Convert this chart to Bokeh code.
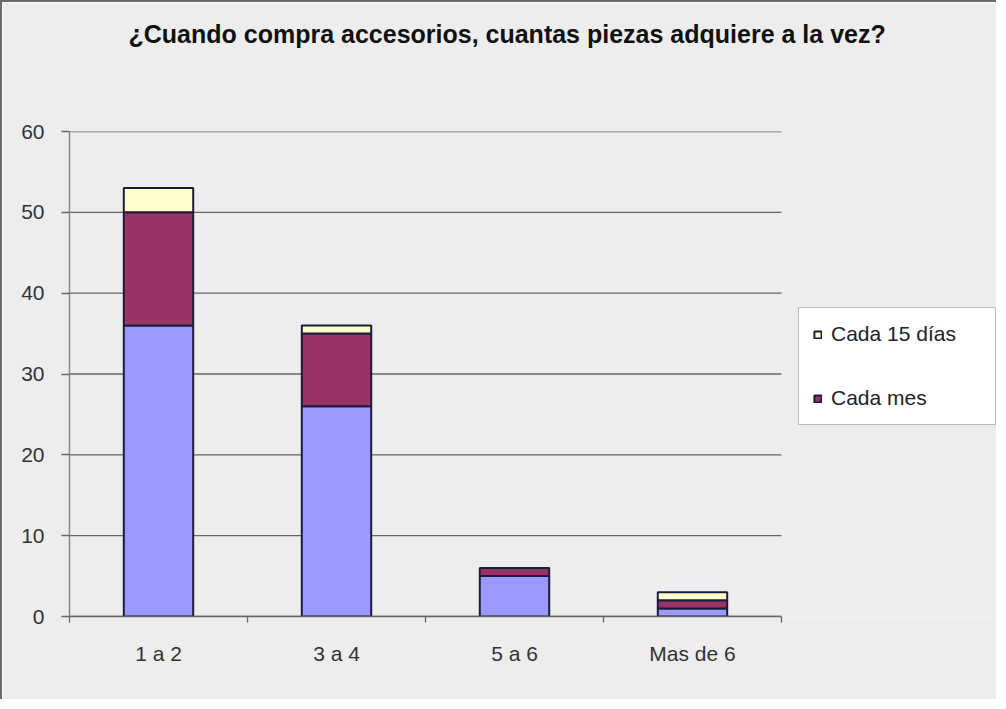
from bokeh.plotting import figure
from bokeh.models import (ColumnDataSource, FixedTicker, Legend, LegendItem, Title,
                          Range1d)
from bokeh.embed import file_html
from bokeh.resources import INLINE

# ---- data ----
categories = ["1 a 2", "3 a 4", "5 a 6", "Mas de 6"]
cada_semana = [36, 26, 5, 1]
cada_mes = [14, 9, 1, 1]
cada_15_dias = [3, 1, 0, 1]
y_ticks = [0, 10, 20, 30, 40, 50, 60]
title_text = "¿Cuando compra accesorios, cuantas piezas adquiere a la vez?"

FONT = "Liberation Sans"
BG = "#EDEDED"
GRID = "#666666"

n = len(categories)
x_centers = [i + 0.5 for i in range(n)]
src = ColumnDataSource(dict(x=x_centers, semana=cada_semana, mes=cada_mes, quince=cada_15_dias))

# frame spans the legend area too; plot area (0..n) takes 712 of its 929 px
W, H = 996, 699
LEFT, TOP, BOTTOM = 67, 129, 85
frame_w = W - LEFT
x_end = n * frame_w / 712.0

p = figure(width=W, height=H, output_backend="svg", toolbar_location=None,
           x_range=Range1d(0, x_end), y_range=Range1d(0, 60),
           min_border_left=LEFT, min_border_right=0, min_border_top=TOP, min_border_bottom=BOTTOM)
p.background_fill_color = BG
p.border_fill_color = BG
p.outline_line_color = None
p.styles = {"border-left": "2px solid #6b6b6b", "border-top": "2px solid #6b6b6b"}

# horizontal grid lines limited to the plot area
p.xgrid.grid_line_color = None
p.ygrid.grid_line_color = None
p.segment(x0=[0] * len(y_ticks), x1=[n] * len(y_ticks), y0=y_ticks, y1=y_ticks,
          line_color=GRID, line_width=1.3)

renderers = p.vbar_stack(["semana", "mes", "quince"], x="x", width=0.39, source=src,
                         fill_color=["#9999FF", "#993366", "#FFFFCC"],
                         line_color="#1c1c3a", line_width=2)

# y axis
p.yaxis.ticker = FixedTicker(ticks=y_ticks)
p.yaxis.axis_line_color = "#8a8a8a"
p.yaxis.axis_line_width = 1.5
p.yaxis.major_tick_line_color = GRID
p.yaxis.major_tick_line_width = 1.3
p.yaxis.major_tick_in = 0
p.yaxis.major_tick_out = 8
p.yaxis.minor_tick_line_color = None
p.yaxis.major_label_text_font = FONT
p.yaxis.major_label_text_font_size = "21px"
p.yaxis.major_label_text_color = "#333333"
p.yaxis.major_label_standoff = 17

# x axis
p.xaxis.bounds = (0, n)
p.xaxis.ticker = FixedTicker(ticks=x_centers, minor_ticks=list(range(n + 1)))
p.xaxis.major_label_overrides = {x: c for x, c in zip(x_centers, categories)}
p.xaxis.axis_line_color = GRID
p.xaxis.axis_line_width = 1.5
p.xaxis.major_tick_line_color = None
p.xaxis.major_tick_in = 0
p.xaxis.major_tick_out = 0
p.xaxis.minor_tick_line_color = GRID
p.xaxis.minor_tick_line_width = 1.3
p.xaxis.minor_tick_in = 0
p.xaxis.minor_tick_out = 6
p.xaxis.major_label_text_font = FONT
p.xaxis.major_label_text_font_size = "21px"
p.xaxis.major_label_text_color = "#333333"
p.xaxis.major_label_standoff = 19

# title (extra blank lines lift it towards the top of the canvas)
p.add_layout(Title(text=title_text + "\n \n \n ", align="left", offset=59, standoff=0,
                   text_font=FONT, text_font_size="25px", text_font_style="bold",
                   text_color="#111111"), "above")

legend = Legend(items=[LegendItem(label="Cada 15 días", renderers=[renderers[2]]),
                       LegendItem(label="Cada mes", renderers=[renderers[1]])],
                location=(729, 191), orientation="vertical")
legend.background_fill_color = "white"
legend.background_fill_alpha = 1.0
legend.border_line_color = "#7a7a7a"
legend.border_line_width = 1.5
legend.label_text_font = FONT
legend.label_text_font_size = "21px"
legend.label_text_color = "#222222"
legend.glyph_width = 9
legend.glyph_height = 9
legend.label_standoff = 9
legend.padding = 14
legend.spacing = 40
legend.label_height = 24
legend.label_width = 150
legend.margin = 0
p.add_layout(legend, "center")

open("out.html", "w").write(file_html(p, INLINE))
